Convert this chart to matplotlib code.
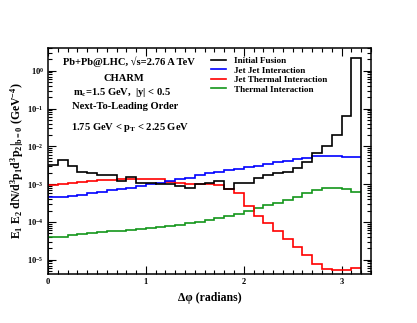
import numpy as np
from matplotlib import pyplot as plt
from matplotlib.ticker import LogLocator, LogFormatterSciNotation, MultipleLocator, NullFormatter

plt.rcParams['font.family'] = ['Liberation Serif', 'DejaVu Serif']
plt.rcParams['font.weight'] = 'bold'
plt.rcParams['mathtext.fontset'] = 'custom'
plt.rcParams['mathtext.rm'] = 'Liberation Serif:bold'
plt.rcParams['mathtext.it'] = 'Liberation Serif:bold'
plt.rcParams['mathtext.bf'] = 'Liberation Serif:bold'

# bin edges in delta phi (radians), 32 bins of 0.1
bin_edges = np.round(np.arange(33) * 0.1, 2)

initial_fusion = [3.2e-3, 4.4e-3, 3.1e-3, 2.1e-3, 2.0e-3, 1.8e-3, 1.8e-3, 1.2e-3,
                  1.55e-3, 1.1e-3, 1.07e-3, 1.0e-3, 1.0e-3, 9.1e-4, 8.1e-4, 1.0e-3,
                  1.07e-3, 1.2e-3, 7.4e-4, 1.05e-3, 1.07e-3, 1.45e-3, 1.8e-3, 1.95e-3,
                  2.15e-3, 2.6e-3, 3.9e-3, 6.5e-3, 1.05e-2, 2.0e-2, 6.3e-2, 2.15]
jet_jet = [4.6e-4, 4.7e-4, 4.9e-4, 5.2e-4, 5.8e-4, 6.2e-4, 6.8e-4, 7.4e-4,
           8.1e-4, 8.9e-4, 1.0e-3, 1.1e-3, 1.23e-3, 1.38e-3, 1.5e-3, 1.74e-3,
           1.95e-3, 2.15e-3, 2.35e-3, 2.5e-3, 2.8e-3, 3.1e-3, 3.45e-3, 3.8e-3,
           4.1e-3, 4.6e-3, 5.0e-3, 5.4e-3, 5.4e-3, 5.4e-3, 5.1e-3, 5.1e-3]
jet_thermal = [9.3e-4, 1.0e-3, 1.07e-3, 1.12e-3, 1.23e-3, 1.29e-3, 1.29e-3, 1.35e-3,
               1.35e-3, 1.38e-3, 1.38e-3, 1.38e-3, 1.17e-3, 1.07e-3, 9.8e-4, 9.8e-4,
               9.8e-4, 9.3e-4, 7.6e-4, 5.8e-4, 2.6e-4, 1.45e-4, 9.3e-5, 5.9e-5,
               3.5e-5, 2.2e-5, 1.3e-5, 7.8e-6, 5.8e-6, 5.5e-6, 5.5e-6, 5.9e-6]
thermal = [4.0e-5, 4.1e-5, 4.6e-5, 4.9e-5, 5.0e-5, 5.4e-5, 5.6e-5, 5.9e-5,
           6.2e-5, 6.6e-5, 6.9e-5, 7.2e-5, 7.9e-5, 8.3e-5, 9.3e-5, 1.02e-4,
           1.15e-4, 1.26e-4, 1.45e-4, 1.62e-4, 2.0e-4, 2.3e-4, 2.75e-4, 3.2e-4,
           3.8e-4, 4.7e-4, 6.0e-4, 7.1e-4, 7.8e-4, 8.1e-4, 7.4e-4, 6.2e-4]

labels = ['Initial Fusion', 'Jet Jet Interaction', 'Jet Thermal Interaction', 'Thermal Interaction']
colors = ['black', '#0000ff', '#ff0000', '#13961a']

fig = plt.figure(figsize=(4.17, 3.23), dpi=100)
ax = fig.add_axes([0.1151, 0.1517, 0.7746, 0.6997])

series = [initial_fusion, jet_jet, jet_thermal, thermal]
for index, (values, label, color) in enumerate(zip(series, labels, colors)):
    baseline = 1e-9 if index == 0 else None
    ax.stairs(values, bin_edges, baseline=baseline, color=color, lw=1.2,
              label=label, zorder=3 - index * 0.1)

ax.set_yscale('log')
ax.set_xlim(0, 3.3)
ax.set_ylim(4.2e-6, 4.0)

ax.xaxis.set_major_locator(MultipleLocator(1))
ax.xaxis.set_minor_locator(MultipleLocator(0.1))
ax.yaxis.set_major_locator(LogLocator(base=10, numticks=20))
ax.yaxis.set_minor_locator(LogLocator(base=10, subs=np.arange(2, 10), numticks=20))
ax.yaxis.set_major_formatter(LogFormatterSciNotation())
ax.yaxis.set_minor_formatter(NullFormatter())

ax.tick_params(which='both', direction='in', top=True, right=True, width=0.8)
ax.tick_params(which='major', length=5.5, labelsize=6, pad=3)
ax.tick_params(which='minor', length=2.8)
for spine in ax.spines.values():
    spine.set_linewidth(1.1)

ax.set_xlabel('Δφ (radians)', fontsize=8.5, fontweight='bold', labelpad=4)
ax.set_ylabel(r'E$_1$ E$_2$ dN/d$^3$p$_1$d$^3$p$_2$|$_{b=0}$ (GeV$^{-4}$)',
              fontsize=8.5, fontweight='bold', labelpad=1)

text_style = dict(fontsize=7.6, fontweight='bold', transform=ax.transAxes)
ax.text(0.047, 0.94, 'Pb+Pb@LHC, √s=2.76 A TeV', ha='left', va='center', **text_style)
ax.text(0.235, 0.865, 'CHARM', ha='center', va='center', **text_style)
ax.text(0.076, 0.803, r'm$_c$=1.5 GeV,  |y| < 0.5', ha='left', va='center', **text_style)
ax.text(0.073, 0.74, 'Next-To-Leading Order', ha='left', va='center', **text_style)
ax.text(0.071, 0.647, r'1.75 GeV < p$_T$ < 2.25 GeV', ha='left', va='center', **text_style)

ax.legend(loc='upper left', bbox_to_anchor=(0.505, 0.962), frameon=False,
          prop={'family': 'Liberation Serif', 'weight': 'bold', 'size': 6.6},
          handlelength=1.6, handletextpad=0.9, labelspacing=0.12,
          borderpad=0, borderaxespad=0,
          handles=[plt.Line2D([], [], color=c, lw=1.2) for c in colors], labels=labels)

fig.savefig('out.png', dpi=100)
